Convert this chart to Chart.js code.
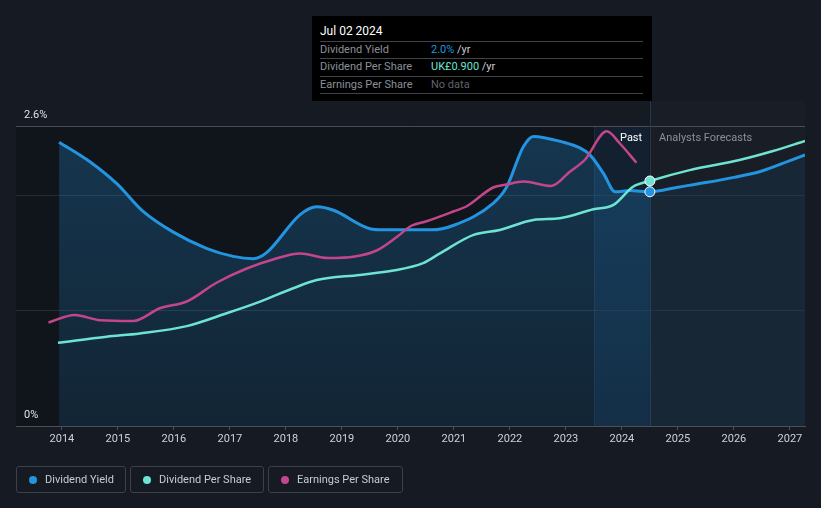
<!DOCTYPE html>
<html>
<head>
<meta charset="utf-8">
<script src="https://cdn.jsdelivr.net/npm/chart.js@4.4.0/dist/chart.umd.min.js"></script>
<style>
  body { margin: 0; background: #151a23; font-family: Roboto, "Noto Sans", sans-serif; }
  #wrap { position: relative; width: 821px; height: 508px; overflow: hidden; }
  canvas { position: absolute; left: 0; top: 0; }
  .tip { position: absolute; left: 312px; top: 16px; width: 340px; height: 85px; background: #000; }
  .tip .title { position: absolute; left: 8px; top: 8px; color: #fff; font-size: 12px; }
  .tip .row { position: absolute; left: 8px; width: 323px; height: 17px; border-top: 1px solid #404349; font-size: 11px; line-height: 16px; }
  .tip .lab { position: absolute; left: 0; color: #8b9099; }
  .tip .val { position: absolute; left: 111px; color: #c9ccd1; }
  .note { position: absolute; top: 131px; font-size: 11px; }
  .legend { position: absolute; top: 466px; height: 27px; border: 1px solid #3b4049; border-radius: 3px; box-sizing: border-box; font-size: 11px; color: #c8ccd2; line-height: 25px; }
  .legend i { position: absolute; left: 12px; top: 8.5px; width: 8px; height: 8px; border-radius: 50%; }
  .legend span { position: absolute; left: 28px; white-space: nowrap; }
</style>
</head>
<body>
<div id="wrap">
  <canvas id="chart" width="821" height="508"></canvas>
  <div class="tip">
    <div class="title">Jul 02 2024</div>
    <div class="row" style="top:25px"><span class="lab">Dividend Yield</span><span class="val"><span style="color:#2394df">2.0%</span> /yr</span></div>
    <div class="row" style="top:42px"><span class="lab">Dividend Per Share</span><span class="val"><span style="color:#6ee3d2">UK£0.900</span> /yr</span></div>
    <div class="row" style="top:60px"><span class="lab">Earnings Per Share</span><span class="val" style="color:#5f636b">No data</span></div>
    <div class="row" style="top:77px;height:0"></div>
  </div>
  <div class="note" style="left:620px;color:#fff">Past</div>
  <div class="note" style="left:659px;color:#8b9099">Analysts Forecasts</div>
  <div class="legend" style="left:16px;width:110px"><i style="background:#2394df"></i><span>Dividend Yield</span></div>
  <div class="legend" style="left:130px;width:134px"><i style="background:#6ee3d2"></i><span>Dividend Per Share</span></div>
  <div class="legend" style="left:268px;width:135px"><i style="background:#c4468a"></i><span>Earnings Per Share</span></div>
</div>
<script>
// x positions are decimal years
const xTicks = [2014, 2015, 2016, 2017, 2018, 2019, 2020, 2021, 2022, 2023, 2024, 2025, 2026, 2027];
const yTicks = [0, 1, 2, 2.6];
const nowYear = 2024.5;   // Jul 02 2024, past / forecast split
const bandStart = 2023.5;

// Dividend Yield (%)
const yieldYears = [2013.95, 2014.5, 2014.98, 2015.45, 2015.99, 2016.58, 2017.06, 2017.42, 2017.65, 2018.25, 2018.55, 2018.85, 2019.5, 2019.75, 2020.6, 2021.0, 2021.7, 2021.94, 2022.24, 2022.42, 2022.95, 2023.25, 2023.43, 2023.67, 2023.88, 2024.14, 2024.5, 2025.0, 2025.5, 2026.0, 2026.5, 2027.0, 2027.27];
const yieldValues = [2.46, 2.29, 2.10, 1.86, 1.68, 1.54, 1.47, 1.45, 1.50, 1.83, 1.90, 1.87, 1.71, 1.70, 1.70, 1.74, 1.93, 2.07, 2.42, 2.51, 2.46, 2.41, 2.35, 2.19, 2.03, 2.04, 2.03, 2.07, 2.11, 2.155, 2.21, 2.30, 2.35];

// Dividend Per Share (UK£)
const dpsYears = [2013.93, 2014.8, 2015.39, 2016.23, 2016.94, 2017.54, 2018.13, 2018.55, 2019.32, 2019.92, 2020.45, 2020.75, 2021.35, 2021.82, 2022.42, 2022.89, 2023.49, 2023.85, 2024.2, 2024.5, 2025.21, 2026.1, 2026.7, 2027.27];
const dpsValues = [0.306, 0.328, 0.340, 0.367, 0.414, 0.457, 0.506, 0.536, 0.555, 0.571, 0.598, 0.634, 0.702, 0.720, 0.757, 0.763, 0.796, 0.812, 0.879, 0.900, 0.940, 0.977, 1.010, 1.047];

// Earnings Per Share (p)
const epsYears = [2013.76, 2014.23, 2014.68, 2015.27, 2015.75, 2016.23, 2016.76, 2017.3, 2017.77, 2018.25, 2018.75, 2019.23, 2019.62, 2019.98, 2020.24, 2020.51, 2020.99, 2021.23, 2021.7, 2021.94, 2022.24, 2022.74, 2023.07, 2023.34, 2023.73, 2023.96, 2024.26];
const epsValues = [13.8, 14.8, 14.1, 14.0, 15.7, 16.6, 19.1, 21.0, 22.2, 23.0, 22.4, 22.6, 23.4, 25.2, 26.7, 27.3, 28.6, 29.3, 31.8, 32.2, 32.6, 32.0, 33.9, 35.5, 39.3, 37.7, 35.1];

const blue = "#2394df";
const teal = "#6ee3d2";
const pink = "#c4468a";

const pts = (xs, ys) => xs.map((x, i) => ({ x, y: ys[i] }));

let pastFill;
function getPastFill(chart) {
  const a = chart.chartArea;
  if (!a) return "rgba(35,148,223,0.18)";
  if (!pastFill) {
    pastFill = chart.ctx.createLinearGradient(0, a.top, 0, a.bottom);
    pastFill.addColorStop(0, "rgba(35,148,223,0.27)");
    pastFill.addColorStop(1, "rgba(35,148,223,0.13)");
  }
  return pastFill;
}

const regions = {
  id: "regions",
  beforeDraw(chart) {
    const { ctx, chartArea: a, scales: { x } } = chart;
    const xNow = x.getPixelForValue(nowYear);
    const xBand = x.getPixelForValue(bandStart);
    ctx.save();
    ctx.fillStyle = "#10141b";
    ctx.fillRect(a.left, a.top, xNow - a.left, a.bottom - a.top);
    ctx.fillStyle = "#122030";
    ctx.fillRect(xBand, a.top, xNow - xBand, a.bottom - a.top);
    ctx.fillStyle = "#181d26";
    ctx.fillRect(xNow, 101, a.right - xNow, a.bottom - 101);
    ctx.restore();
  },
  beforeDatasetsDraw(chart) {
    const { ctx, chartArea: a, scales: { x } } = chart;
    const xNow = Math.round(x.getPixelForValue(nowYear)) + 0.5;
    const xBand = Math.round(x.getPixelForValue(bandStart)) + 0.5;
    ctx.save();
    ctx.lineWidth = 1;
    ctx.strokeStyle = "rgba(120,160,200,0.10)";
    ctx.beginPath(); ctx.moveTo(xBand, a.top); ctx.lineTo(xBand, a.bottom); ctx.stroke();
    ctx.strokeStyle = "#2a3846";
    ctx.beginPath(); ctx.moveTo(xNow, 101); ctx.lineTo(xNow, a.bottom); ctx.stroke();
    ctx.restore();
  }
};

const marker = (ctx) => (ctx.raw && ctx.raw.x === nowYear ? 5 : 0);

new Chart(document.getElementById("chart"), {
  type: "line",
  data: {
    datasets: [
      {
        label: "Earnings Per Share",
        data: pts(epsYears, epsValues),
        yAxisID: "yEps",
        borderColor: pink,
        borderWidth: 2.5,
        pointRadius: 0,
        fill: false,
      },
      {
        label: "Dividend Per Share",
        data: pts(dpsYears, dpsValues),
        yAxisID: "yDps",
        borderColor: teal,
        borderWidth: 2.5,
        pointRadius: marker,
        pointBackgroundColor: teal,
        pointBorderColor: "#fff",
        pointBorderWidth: 1,
        fill: false,
      },
      {
        label: "Dividend Yield",
        data: pts(yieldYears, yieldValues),
        yAxisID: "y",
        borderColor: blue,
        borderWidth: 3,
        pointRadius: marker,
        pointBackgroundColor: blue,
        pointBorderColor: "#fff",
        pointBorderWidth: 1,
        fill: "origin",
        backgroundColor: (ctx) => getPastFill(ctx.chart),
        segment: {
          backgroundColor: (ctx) =>
            ctx.p0.parsed.x >= nowYear ? "rgba(35,148,223,0.09)" : getPastFill(ctx.chart),
        },
      },
    ],
  },
  options: {
    responsive: false,
    animation: false,
    events: [],
    cubicInterpolationMode: "monotone",
    layout: { padding: { left: 16, right: 16, top: 126, bottom: 52 } },
    plugins: { legend: { display: false }, tooltip: { enabled: false } },
    scales: {
      x: {
        type: "linear",
        min: 2013.18,
        max: 2027.27,
        afterBuildTicks: (s) => { s.ticks = xTicks.map((v) => ({ value: v })); },
        afterFit: (s) => { s.height = 30; },
        ticks: { color: "#d0d3d8", font: { family: "Roboto", size: 11 }, padding: 3, maxRotation: 0, callback: (v) => String(v) },
        grid: { drawOnChartArea: false, drawTicks: true, tickLength: 4, color: "#4a4f58" },
        border: { color: "#4a4f58", width: 1 },
      },
      y: {
        min: 0,
        max: 2.6,
        afterBuildTicks: (s) => { s.ticks = yTicks.map((v) => ({ value: v })); },
        afterFit: (s) => { s.width = 0; },
        ticks: {
          mirror: true,
          padding: 8,
          labelOffset: -11,
          color: "#e0e2e6",
          font: { family: "Roboto", size: 11 },
          callback: (v) => (v === 0 || v === 2.6 ? v + "%" : ""),
        },
        grid: {
          drawTicks: false,
          color: (c) => (c.tick.value === 2.6 ? "#474c56" : c.tick.value === 0 ? "rgba(0,0,0,0)" : "#262b34"),
        },
        border: { display: false },
      },
      yDps: { display: false, min: 0, max: 1.102 },
      yEps: { display: false, min: 0, max: 40 },
    },
  },
  plugins: [regions],
});
</script>
</body>
</html>
